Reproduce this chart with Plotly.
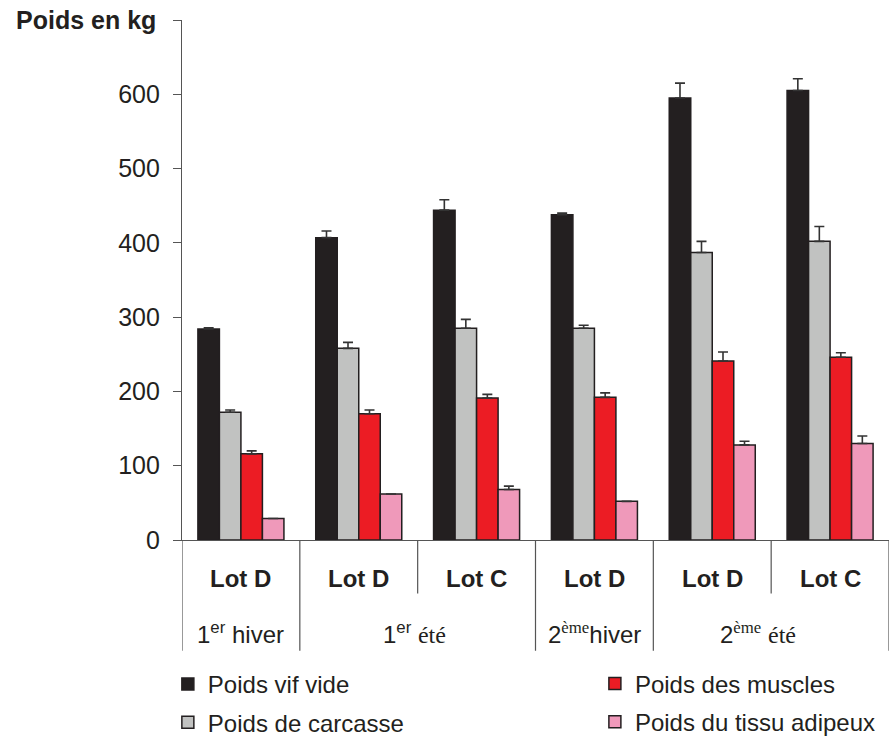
import plotly.graph_objects as go

# Groups along the x axis
lots = ["Lot D", "Lot D", "Lot C", "Lot D", "Lot D", "Lot C"]
seasons = ["1<sup>er</sup> hiver",
           "1<sup>er</sup> <span style='font-family:Liberation Serif'>été</span>",
           "2<sup><span style='font-family:Liberation Serif'>ème</span></sup>hiver",
           "2<sup><span style='font-family:Liberation Serif'>ème</span></sup> <span style='font-family:Liberation Serif'>été</span>"]
season_pos = [0, 1.47, 3, 4.39]

# Weights (kg) and upper error bars
vif = [284, 407, 444, 438, 595, 605]
vif_err = [1.5, 9, 14, 2, 20, 16]
carcasse = [172, 258, 285, 285, 387, 402]
carcasse_err = [3, 8, 12, 4, 15, 20]
muscles = [116, 170, 191, 192, 241, 246]
muscles_err = [4, 5, 5, 6, 12, 6]
adipeux = [29, 62, 68, 52, 128, 130]
adipeux_err = [0, 0, 4.5, 0, 5, 10]

y_ticks = [0, 100, 200, 300, 400, 500, 600, 700]
y_ticktext = ["0", "100", "200", "300", "400", "500", "600", ""]

INK = "#231f20"
x = list(range(len(lots)))

series = [
    ("Poids vif vide", vif, vif_err, "#231f20", "legend", 1),
    ("Poids de carcasse", carcasse, carcasse_err, "#c1c2c1", "legend", 2),
    ("Poids des muscles", muscles, muscles_err, "#ec1c24", "legend2", 1),
    ("Poids du tissu adipeux", adipeux, adipeux_err, "#ef99ba", "legend2", 2),
]

fig = go.Figure()
for name, vals, errs, col, leg, rank in series:
    fig.add_trace(go.Bar(
        x=x, y=vals, name=name, legend=leg, legendgroup=name, legendrank=rank,
        marker=dict(color=col, line=dict(color=INK, width=1.5)),
        error_y=dict(type="data", symmetric=False, array=errs,
                     arrayminus=[0] * len(errs), color="#333333",
                     thickness=1.6, width=5),
    ))

# Table lines under the x axis
full_lines = [-0.5, 0.5, 2.5, 3.5, 5.5]
short_lines = [1.5, 4.5]
shapes = []
for xv in full_lines:
    shapes.append(dict(type="line", xref="x", yref="paper", x0=xv, x1=xv,
                       y0=0, y1=-0.213, line=dict(color="#555555", width=1.2)))
for xv in short_lines:
    shapes.append(dict(type="line", xref="x", yref="paper", x0=xv, x1=xv,
                       y0=0, y1=-0.103, line=dict(color="#555555", width=1.2)))

annotations = []
for i, lot in enumerate(lots):
    annotations.append(dict(x=i, y=-0.074, xref="x", yref="paper",
                            text="<b>%s</b>" % lot, showarrow=False,
                            font=dict(size=24, color=INK), yanchor="middle"))
for pos, s in zip(season_pos, seasons):
    annotations.append(dict(x=pos, y=-0.178, xref="x", yref="paper",
                            text=s, showarrow=False,
                            font=dict(size=24, color=INK), yanchor="middle"))
annotations.append(dict(x=-0.2376, y=1.0, xref="paper", yref="paper",
                        text="<b>Poids en kg</b>", showarrow=False,
                        xanchor="left", yanchor="middle",
                        font=dict(size=25, color=INK)))

fig.update_layout(
    width=895, height=738,
    margin=dict(l=182, r=6, t=20, b=198, autoexpand=False),
    paper_bgcolor="white", plot_bgcolor="white",
    font=dict(family="Liberation Sans, Arial, sans-serif", color=INK),
    barmode="group", bargap=0.27, bargroupgap=0,
    showlegend=True,
    legend=dict(x=-0.02, y=-0.2346, xanchor="left", yanchor="top",
                orientation="v", font=dict(size=24, color=INK),
                tracegroupgap=4, bgcolor="rgba(0,0,0,0)"),
    legend2=dict(x=0.584, y=-0.2336, xanchor="left", yanchor="top",
                 orientation="v", font=dict(size=24, color=INK),
                 tracegroupgap=4, bgcolor="rgba(0,0,0,0)"),
    xaxis=dict(range=[-0.5, 5.5], showticklabels=False, ticks="",
               showgrid=False, zeroline=False, showline=True,
               linecolor="#555555", linewidth=1.2),
    yaxis=dict(range=[0, 700], tickvals=y_ticks, ticktext=y_ticktext,
               ticks="outside", ticklen=8, tickwidth=1.2, tickcolor="#555555",
               showgrid=False, zeroline=False, showline=True,
               linecolor="#555555", linewidth=1.2,
               tickfont=dict(size=25, color=INK), ticklabelstandoff=8),
    shapes=shapes,
    annotations=annotations,
)

fig.write_html("out.html")
